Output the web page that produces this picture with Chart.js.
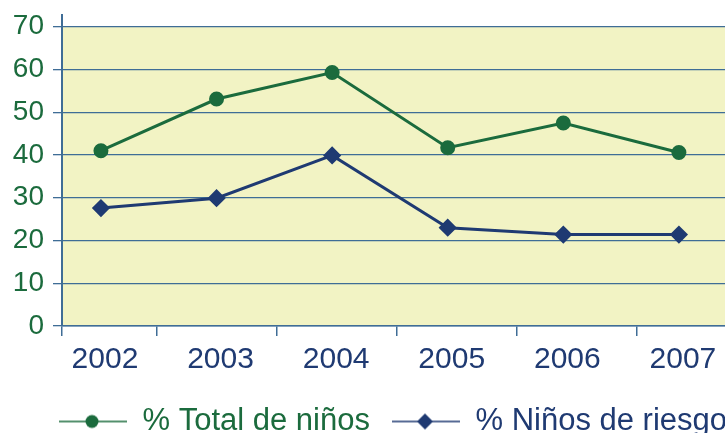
<!DOCTYPE html>
<html>
<head>
<meta charset="utf-8">
<script src="https://cdn.jsdelivr.net/npm/chart.js@4"></script>
<style>
  html, body { margin: 0; padding: 0; overflow: hidden; background: #fff; }
  #wrap { position: absolute; left: 0; top: -11px; width: 786px; height: 458px; }
</style>
</head>
<body>
<div id="wrap"><canvas id="ninos-chart"></canvas></div>
<script>
// data =========================================================//
const years = [2002, 2003, 2004, 2005, 2006, 2007];
const totalNinos = [41.0, 53.1, 59.3, 41.7, 47.5, 40.6];
const ninosRiesgo = [27.6, 29.9, 39.9, 23.0, 21.4, 21.4];
const yTicks = [0, 10, 20, 30, 40, 50, 60, 70];
const tickMarks = [2001.708, 2002.5, 2003.5, 2004.5, 2005.5, 2006.5];

const GREEN = '#1b6b3d';
const BLUE = '#1f3a72';
const GRID = '#3f6d96';
const PLOT_BG = '#f2f3c4';

// legend icons: a line with the marker in the middle
function legendIcon(color, style) {
    const c = document.createElement('canvas');
    c.width = 68;
    c.height = 20;
    const ctx = c.getContext('2d');
    ctx.strokeStyle = color;
    ctx.lineWidth = 1.5;
    ctx.beginPath();
    ctx.moveTo(0, 10);
    ctx.lineTo(68, 10);
    ctx.stroke();
    ctx.fillStyle = color;
    ctx.beginPath();
    if (style === 'circle') {
        ctx.arc(33, 10, 6.5, 0, Math.PI * 2);
    } else {
        ctx.moveTo(33, 2);
        ctx.lineTo(41, 10);
        ctx.lineTo(33, 18);
        ctx.lineTo(25, 10);
        ctx.closePath();
    }
    ctx.fill();
    return c;
}
const icons = [legendIcon(GREEN, 'circle'), legendIcon(BLUE, 'diamond')];
const legendColors = [GREEN, BLUE];

// yellow plot background only between 0 and 70
const plotBackground = {
    id: 'plotBackground',
    beforeDraw(chart) {
        const ctx = chart.ctx;
        const y = chart.scales.y;
        const area = chart.chartArea;
        const top = y.getPixelForValue(70);
        const bottom = y.getPixelForValue(0);
        ctx.save();
        ctx.fillStyle = PLOT_BG;
        ctx.fillRect(area.left, top, area.right - area.left, bottom - top);
        ctx.restore();
    }
};

const ninosCanvas = document.getElementById('ninos-chart');

const ninosData = {
    datasets: [{
        label: '% Total de niños',
        data: years.map((yr, i) => ({ x: yr, y: totalNinos[i] })),
        borderColor: GREEN,
        backgroundColor: GREEN,
        borderWidth: 3,
        pointStyle: 'circle',
        pointRadius: 6,
        pointHoverRadius: 6,
        tension: 0
    }, {
        label: '% Niños de riesgo',
        data: years.map((yr, i) => ({ x: yr, y: ninosRiesgo[i] })),
        borderColor: BLUE,
        backgroundColor: BLUE,
        borderWidth: 3,
        pointStyle: 'rectRot',
        pointRadius: 7,
        pointHoverRadius: 7,
        tension: 0
    }]
};

const ninosConfig = {
    type: 'line',
    data: ninosData,
    plugins: [plotBackground],
    options: {
        responsive: true,
        maintainAspectRatio: false,
        animation: false,
        layout: { padding: 0 },
        scales: {
            x: {
                type: 'linear',
                position: 'bottom',
                weight: 1,
                min: 2001.663,
                max: 2007.84,
                afterBuildTicks: (scale) => {
                    scale.ticks = years.map(v => ({ value: v }));
                },
                grid: { display: false, drawTicks: false },
                border: { display: false },
                ticks: {
                    color: BLUE,
                    padding: 6,
                    labelOffset: 4,
                    maxRotation: 0,
                    autoSkip: false,
                    font: { family: 'Liberation Sans', size: 30 },
                    callback: (v) => String(v)
                }
            },
            x2: {
                type: 'linear',
                position: 'bottom',
                weight: 0,
                min: 2001.708,
                max: 2007.658,
                afterBuildTicks: (scale) => {
                    scale.ticks = tickMarks.map(v => ({ value: v }));
                },
                grid: {
                    drawOnChartArea: false,
                    drawTicks: true,
                    tickLength: 10,
                    color: GRID,
                    lineWidth: 1.5
                },
                border: { display: true, color: GRID, width: 1.5 },
                ticks: { display: false }
            },
            y: {
                min: 0,
                max: 72.8,
                afterBuildTicks: (scale) => {
                    scale.ticks = yTicks.map(v => ({ value: v }));
                },
                afterFit: (scale) => {
                    scale.width = 62;
                },
                grid: {
                    color: GRID,
                    lineWidth: 1.3,
                    tickLength: 9
                },
                border: { display: true, color: GRID, width: 2 },
                ticks: {
                    color: GREEN,
                    padding: 9,
                    font: { family: 'Liberation Sans', size: 28 }
                }
            }
        },
        plugins: {
            legend: {
                position: 'bottom',
                labels: {
                    usePointStyle: true,
                    pointStyleWidth: 68,
                    padding: 22,
                    font: { family: 'Liberation Sans', size: 31 },
                    generateLabels: (chart) => {
                        const items = Chart.defaults.plugins.legend.labels.generateLabels(chart);
                        items.forEach((item, i) => {
                            item.pointStyle = icons[i];
                            item.fontColor = legendColors[i];
                        });
                        return items;
                    }
                }
            },
            tooltip: { enabled: false }
        }
    }
};

const ninosChart = new Chart(ninosCanvas, ninosConfig);
</script>
</body>
</html>
